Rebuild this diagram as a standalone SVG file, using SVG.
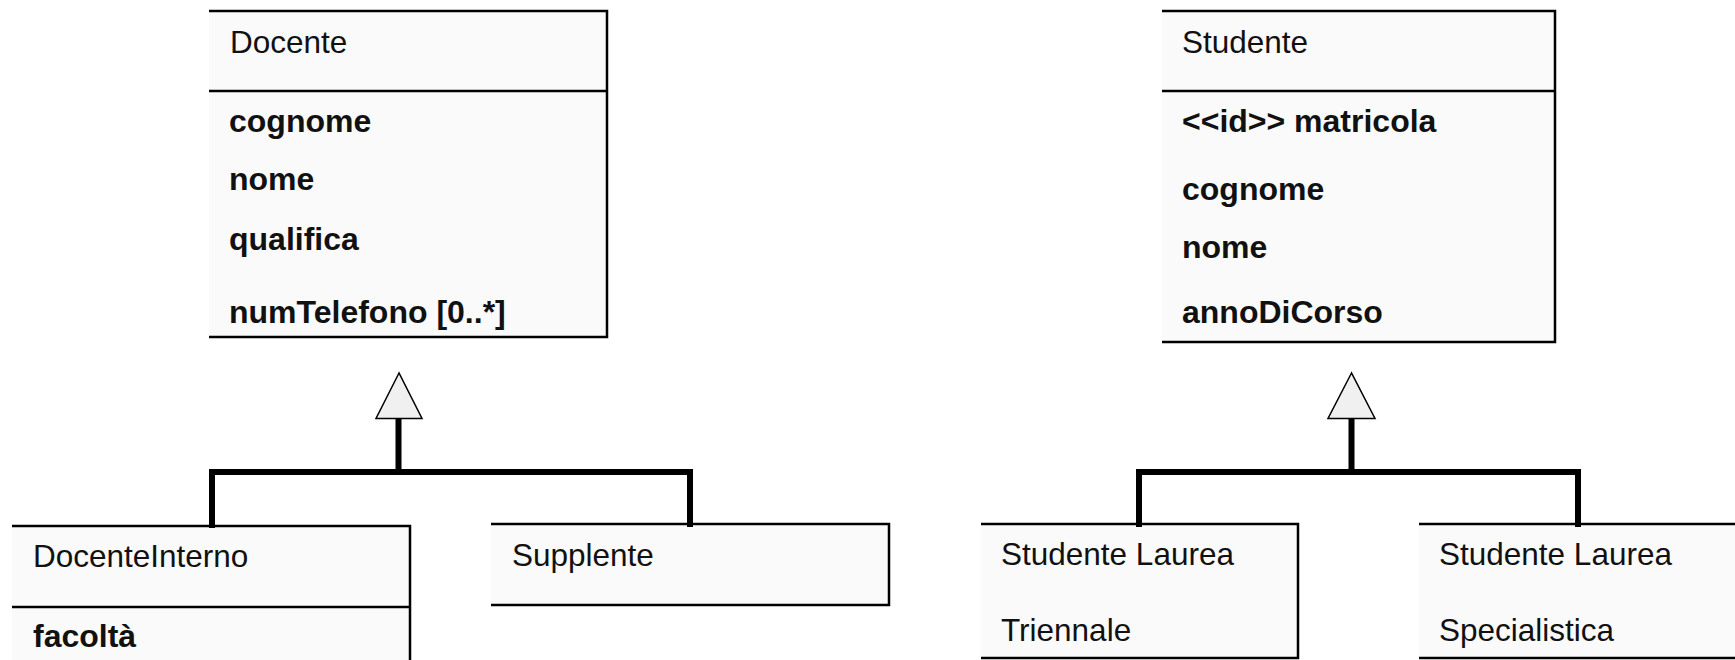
<svg xmlns="http://www.w3.org/2000/svg" width="1735" height="660" viewBox="0 0 1735 660">
  <style>
    .fill { fill: #fafafa; stroke: none; }
    .edge { fill: none; stroke: #000; stroke-width: 2.5; }
    .name { font-family: "Liberation Sans", Arial, sans-serif; font-size: 31.5px; fill: #111; }
    .attr { font-family: "Liberation Sans", Arial, sans-serif; font-size: 32px; font-weight: bold; fill: #111; }
    .link { fill: none; stroke: #000; stroke-width: 6; stroke-linecap: square; }
    .head { fill: #f0f0f0; stroke: #000; stroke-width: 1.5; stroke-linejoin: miter; }
  </style>

  <rect width="1735" height="660" fill="#ffffff"/>

  <!-- class boxes: open on the left, border on top, right and bottom -->
  <g id="docente">
    <rect class="fill" x="209" y="11" width="398" height="326"/>
    <path class="edge" d="M209 11 H607 V337 H209 M209 91 H607"/>
    <text class="name" x="230" y="53">Docente</text>
    <text class="attr" x="229" y="132">cognome</text>
    <text class="attr" x="229" y="190">nome</text>
    <text class="attr" x="229" y="250">qualifica</text>
    <text class="attr" x="229" y="323">numTelefono [0..*]</text>
  </g>

  <g id="studente">
    <rect class="fill" x="1162" y="11" width="393" height="331"/>
    <path class="edge" d="M1162 11 H1555 V342 H1162 M1162 91 H1555"/>
    <text class="name" x="1182" y="53">Studente</text>
    <text class="attr" x="1182" y="132">&lt;&lt;id&gt;&gt; matricola</text>
    <text class="attr" x="1182" y="200">cognome</text>
    <text class="attr" x="1182" y="258">nome</text>
    <text class="attr" x="1182" y="323">annoDiCorso</text>
  </g>

  <g id="docente-interno">
    <rect class="fill" x="12" y="526" width="398" height="140"/>
    <path class="edge" d="M12 526 H410 V666 M12 607 H410"/>
    <text class="name" x="33" y="567">DocenteInterno</text>
    <text class="attr" x="33" y="647">facoltà</text>
  </g>

  <g id="supplente">
    <rect class="fill" x="491" y="524" width="398" height="81"/>
    <path class="edge" d="M491 524 H889 V605 H491"/>
    <text class="name" x="512" y="566">Supplente</text>
  </g>

  <g id="studente-triennale">
    <rect class="fill" x="981" y="524" width="317" height="134"/>
    <path class="edge" d="M981 524 H1298 V658 H981"/>
    <text class="name" x="1001" y="565">Studente Laurea</text>
    <text class="name" x="1001" y="641">Triennale</text>
  </g>

  <g id="studente-specialistica">
    <rect class="fill" x="1419" y="524" width="330" height="134"/>
    <path class="edge" d="M1419 524 H1750 M1750 658 H1419"/>
    <text class="name" x="1439" y="565">Studente Laurea</text>
    <text class="name" x="1439" y="641">Specialistica</text>
  </g>

  <!-- generalization trees -->
  <g id="connectors">
    <path class="link" d="M212 525 V472 H690 V524 M398.5 472 V419"/>
    <polygon class="head" points="399,373 376,418.5 422,418.5"/>
    <path class="link" d="M1139 524 V472 H1578 V524 M1351.5 472 V419"/>
    <polygon class="head" points="1351.5,373 1328,418.5 1375,418.5"/>
  </g>
</svg>
